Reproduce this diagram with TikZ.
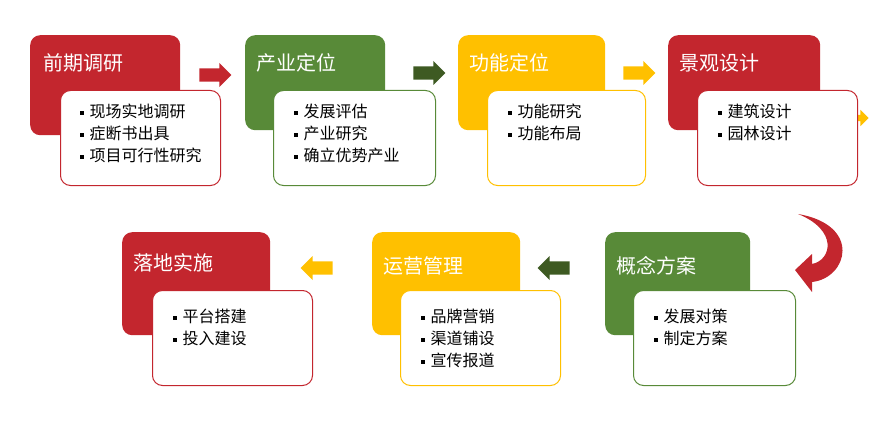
\documentclass[tikz,border=0pt]{standalone}
\usepackage{fontspec}
\newfontfamily\cjk{Noto Sans CJK SC}
\usetikzlibrary{shapes.arrows,arrows.meta}
\definecolor{cred}{HTML}{C3262E}
\definecolor{cgreen}{HTML}{588A38}
\definecolor{cyel}{HTML}{FFC000}
\definecolor{cdg}{HTML}{3E5A22}
\begin{document}
\begin{tikzpicture}[x=1pt,y=-1pt,font=\cjk,
 hbox/.style={draw=none,rounded corners=10pt,minimum width=150pt,minimum height=100pt,anchor=north west,inner sep=0pt},
 wbox/.style={draw=#1,fill=white,rounded corners=10pt,line width=1pt,minimum width=160pt,minimum height=95pt,anchor=north west,inner sep=0pt},
 ttl/.style={anchor=west,text=white,font=\cjk\fontsize{20}{24}\selectfont},
 items/.style={anchor=north west,align=left,font=\cjk\fontsize{16}{22}\selectfont},
 arr/.style={single arrow,fill=#1,draw=none,minimum height=32pt,minimum width=24pt,single arrow head extend=5pt,inner xsep=0pt,inner ysep=6pt}]
\useasboundingbox (0,0) rectangle (885,425);
\newcommand\bl{\rule[2.5pt]{4pt}{4pt}\hspace{6pt}}
% row 1
\node[hbox,fill=cred,minimum width=150pt] (h1) at (30,35) {};
\node[ttl] at (40,63) {前期调研};
\node[wbox=cred] (w1) at (60,90) {};
\node[items] at (76,100) {\bl 现场实地调研\\\bl 症断书出具\\\bl 项目可行性研究};
\node[hbox,fill=cgreen,minimum width=140pt,minimum height=95pt] (h2) at (245,35) {};
\node[ttl] at (253,63) {产业定位};
\node[wbox=cgreen,minimum width=162pt] (w2) at (273,90) {};
\node[items] at (290,100) {\bl 发展评估\\\bl 产业研究\\\bl 确立优势产业};
\node[hbox,fill=cyel,minimum width=147pt,minimum height=95pt] (h3) at (458,35) {};
\node[ttl] at (466,63) {功能定位};
\node[wbox=cyel,minimum width=158pt] (w3) at (487,90) {};
\node[items] at (504,100) {\bl 功能研究\\\bl 功能布局};
\node[hbox,fill=cred,minimum width=152pt,minimum height=95pt] (h4) at (668,35) {};
\node[ttl] at (676,63) {景观设计};
\node[arr=cyel,minimum height=14pt,minimum width=16pt,inner ysep=3pt] (a4) at (860,118) {};
\node[wbox=cred] (w4) at (697,90) {};
\node[items] at (714,100) {\bl 建筑设计\\\bl 园林设计};
% row 2
\node[hbox,fill=cgreen,minimum width=145pt,minimum height=103pt] (h5) at (605,232) {};
\node[ttl] at (613,266) {概念方案};
\node[wbox=cgreen,minimum width=162pt] (w5) at (633,290) {};
\node[items] at (650,305) {\bl 发展对策\\\bl 制定方案};
\node[hbox,fill=cyel,minimum width=148pt,minimum height=103pt] (h6) at (372,232) {};
\node[ttl] at (380,266) {运营管理};
\node[wbox=cyel] (w6) at (400,290) {};
\node[items] at (417,305) {\bl 品牌营销\\\bl 渠道铺设\\\bl 宣传报道};
\node[hbox,fill=cred,minimum width=148pt,minimum height=103pt] (h7) at (122,232) {};
\node[ttl] at (130,263) {落地实施};
\node[wbox=cred] (w7) at (152,290) {};
\node[items] at (169,305) {\bl 平台搭建\\\bl 投入建设};
% arrows
\node[arr=cred] (a1) at (212,75) {};
\node[arr=cdg] (a2) at (426,73) {};
\node[arr=cyel] (a3) at (636,73) {};
\node[arr=cdg,shape border rotate=180] (a5) at (557,268) {};
\node[arr=cyel,shape border rotate=180] (a6) at (320,268) {};
\fill[cred] (798,214) .. controls (862,225) and (848,278) .. (812,282)
  -- (812,292) -- (795,270) -- (812,254) -- (812,264)
  .. controls (832,260) and (838,230) .. (798,214) -- cycle;
\end{tikzpicture}
\end{document}
